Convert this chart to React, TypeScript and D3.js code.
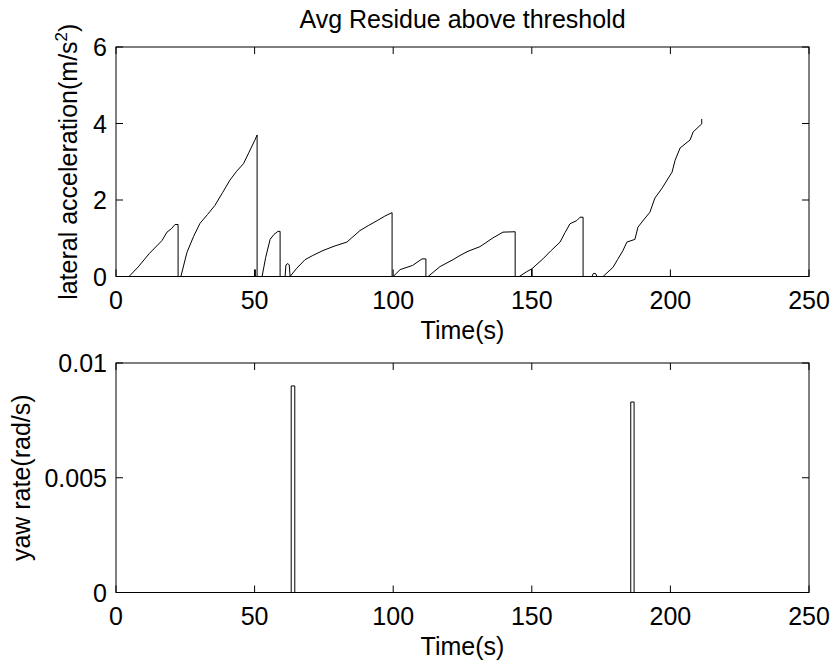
import React from "react";
import * as d3 from "d3";

// ---- data ----
const accTime = [0, 4.7, 8, 12, 16.6, 18.4, 20, 21.3, 22.4, 22.4, 23.4, 25.6, 28, 30.3, 33, 35.7, 38.5, 41.1, 43.5, 46, 48, 50, 50.9, 50.9, 50.2, 50.2, 50.2, 52.7, 54, 55.6, 57, 58.4, 59.2, 59.2, 61, 61.3, 62, 62.5, 62.8, 65, 68.2, 71, 74.7, 79, 83.3, 88, 91, 94.2, 97, 99.6, 99.6, 100, 102.5, 107, 110.4, 111.8, 111.8, 112.6, 116.9, 121.6, 124.1, 127, 131.3, 136, 139.6, 144, 144, 145.5, 148, 150, 150, 150, 154, 157, 160.2, 162, 163.8, 166.2, 167.4, 168.5, 168.5, 171.7, 172.2, 173, 173.5, 175.7, 179.3, 181, 182.9, 184.3, 187.2, 188.3, 190, 192.6, 194.4, 197, 200.6, 201.7, 203.5, 207.1, 208.2, 211.3, 211.3];
const accValue = [0, 0, 0.25, 0.6, 0.94, 1.16, 1.25, 1.36, 1.36, 0, 0, 0.63, 1.05, 1.39, 1.62, 1.86, 2.2, 2.52, 2.75, 2.95, 3.25, 3.55, 3.7, 0, 0, 0.18, 0, 0, 0.5, 0.97, 1.1, 1.18, 1.18, 0, 0, 0.3, 0.34, 0.3, 0, 0.2, 0.44, 0.55, 0.68, 0.8, 0.9, 1.2, 1.33, 1.46, 1.58, 1.67, 0, 0, 0.18, 0.29, 0.46, 0.46, 0, 0, 0.26, 0.44, 0.55, 0.66, 0.78, 1.01, 1.16, 1.17, 0, 0, 0.12, 0.2, 0, 0.2, 0.46, 0.68, 0.9, 1.15, 1.38, 1.46, 1.55, 1.55, 0, 0, 0.08, 0.08, 0, 0, 0.24, 0.45, 0.68, 0.9, 0.97, 1.29, 1.45, 1.68, 2.05, 2.31, 2.73, 3.04, 3.36, 3.57, 3.78, 3.99, 4.12];

const yawTime = [0, 63.2, 63.2, 64.5, 64.5, 185.7, 185.7, 186.9, 186.9, 247];
const yawValue = [0, 0, 0.009, 0.009, 0, 0, 0.0083, 0.0083, 0, 0];

const xTicks = [0, 50, 100, 150, 200, 250];
const accTicks = [0, 2, 4, 6];
const yawTicks = [0, 0.005, 0.01];
const yawTickLabels = ["0", "0.005", "0.01"];

const W = 833;
const H = 664;
const left = 116;
const right = 809;
const FONT = "'Liberation Sans', Arial, Helvetica, sans-serif";
const FS = 25;
const TICK = 7;

function Panel({ top, bottom, yDomain, yTicks, yLabels, xs, ys }: any) {
  const x = d3.scaleLinear().domain([0, 250]).range([left, right]);
  const y = d3.scaleLinear().domain(yDomain).range([bottom, top]);
  const pts: [number, number][] = xs.map((t: number, i: number) => [t, ys[i]]);
  const line = d3
    .line<[number, number]>()
    .x((d) => x(d[0]))
    .y((d) => y(d[1]));
  return (
    <g>
      <path d={line(pts) || ""} fill="none" stroke="#000" strokeWidth={1} />
      <rect x={left} y={top} width={right - left} height={bottom - top} fill="none" stroke="#000" strokeWidth={1} />
      {xTicks.map((t) => (
        <g key={"x" + t}>
          <line x1={x(t)} x2={x(t)} y1={bottom} y2={bottom - TICK} stroke="#000" />
          <line x1={x(t)} x2={x(t)} y1={top} y2={top + TICK} stroke="#000" />
          <text x={x(t)} y={bottom + 32} textAnchor="middle" fontSize={FS} fontFamily={FONT}>
            {t}
          </text>
        </g>
      ))}
      {yTicks.map((t: number, i: number) => (
        <g key={"y" + t}>
          <line x1={left} x2={left + TICK} y1={y(t)} y2={y(t)} stroke="#000" />
          <line x1={right} x2={right - TICK} y1={y(t)} y2={y(t)} stroke="#000" />
          <text x={107} y={y(t)} dy="0.36em" textAnchor="end" fontSize={FS} fontFamily={FONT}>
            {yLabels[i]}
          </text>
        </g>
      ))}
      <text x={(left + right) / 2} y={bottom + 62} textAnchor="middle" fontSize={FS} fontFamily={FONT}>
        Time(s)
      </text>
    </g>
  );
}

export default function App() {
  const topT = 47;
  const topB = 276.5;
  const botT = 363;
  const botB = 592.5;
  return (
    <svg width={W} height={H} style={{ position: "absolute", left: 0, top: 0, background: "#fff" }}>
      <rect width={W} height={H} fill="#fff" />
      <text x={(left + right) / 2} y={28} textAnchor="middle" fontSize={FS} fontFamily={FONT}>
        Avg Residue above threshold
      </text>
      <Panel top={topT} bottom={topB} yDomain={[0, 6]} yTicks={accTicks} yLabels={accTicks.map(String)} xs={accTime} ys={accValue} />
      <Panel top={botT} bottom={botB} yDomain={[0, 0.01]} yTicks={yawTicks} yLabels={yawTickLabels} xs={yawTime} ys={yawValue} />
      <text
        transform={`translate(77,${(topT + topB) / 2}) rotate(-90)`}
        textAnchor="middle"
        fontSize={FS}
        fontFamily={FONT}
      >
        lateral acceleration(m/s
        <tspan dy={-10} fontSize={17}>2</tspan>
        <tspan dy={10}>)</tspan>
      </text>
      <text
        transform={`translate(30,${(botT + botB) / 2}) rotate(-90)`}
        textAnchor="middle"
        fontSize={FS}
        fontFamily={FONT}
      >
        yaw rate(rad/s)
      </text>
    </svg>
  );
}
